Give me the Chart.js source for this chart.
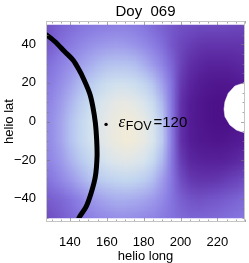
<!DOCTYPE html>
<html><head><meta charset="utf-8">
<script src="https://cdn.jsdelivr.net/npm/chart.js@4.4.1/dist/chart.umd.min.js"></script>
<style>html,body{margin:0;padding:0;background:#fff;}</style>
</head><body>
<canvas id="c" width="249" height="263"></canvas>
<script>
// ---- data ----
const titleText = "Doy  069";
const xTitle = "helio long";
const yTitle = "helio lat";
const xTickValues = [140, 160, 180, 200, 220];
const yTickValues = [-40, -20, 0, 20, 40];
const xRange = [127, 235];
const yRange = [-52, 52];
const mapLatRange = [-50, 50];

// intensity map (0 = darkest purple, 1 = cream), columns = gridLong, rows = gridLat
const gridLong = [125,130,135,140,145,150,155,160,165,170,175,180,185,190,195,200,205,210,215,220,225,230,235];
const gridLat = [50,40,30,20,10,0,-10,-20,-30,-40,-50];
const row50  = [.27,.30,.34,.37,.40,.42,.44,.45,.46,.46,.44,.41,.37,.33,.30,.28,.27,.26,.26,.26,.26,.25,.25];
const row40  = [.30,.33,.39,.44,.49,.53,.56,.58,.59,.58,.55,.51,.45,.38,.30,.25,.22,.20,.19,.19,.19,.19,.20];
const row30  = [.36,.41,.47,.53,.59,.64,.68,.71,.72,.72,.70,.65,.58,.48,.35,.24,.17,.14,.12,.12,.12,.13,.15];
const row20  = [.42,.46,.53,.61,.68,.74,.79,.83,.85,.85,.83,.79,.72,.60,.40,.21,.13,.09,.07,.06,.06,.08,.10];
const row10  = [.46,.51,.59,.67,.75,.81,.87,.91,.94,.95,.93,.89,.82,.68,.42,.18,.10,.06,.04,.03,.03,.05,.07];
const row0   = [.48,.54,.62,.71,.79,.85,.90,.94,.97,.99,.98,.95,.88,.74,.44,.18,.09,.06,.04,.03,.03,.05,.07];
const rowM10 = [.48,.54,.62,.71,.79,.85,.90,.94,.97,.99,.98,.95,.89,.75,.45,.18,.10,.07,.06,.05,.06,.08,.10];
const rowM20 = [.45,.51,.58,.66,.73,.79,.84,.88,.91,.92,.91,.88,.81,.68,.43,.22,.14,.12,.11,.11,.12,.14,.17];
const rowM30 = [.38,.43,.50,.57,.64,.70,.74,.77,.79,.80,.79,.76,.70,.59,.42,.27,.21,.19,.19,.20,.22,.24,.27];
const rowM40 = [.30,.33,.36,.40,.47,.55,.60,.63,.65,.65,.64,.62,.58,.51,.41,.33,.29,.28,.29,.30,.32,.34,.37];
const rowM50 = [.25,.28,.31,.35,.40,.45,.49,.51,.53,.53,.52,.50,.48,.44,.40,.37,.35,.35,.36,.37,.39,.41,.43];
const intensityRows = [row50,row40,row30,row20,row10,row0,rowM10,rowM20,rowM30,rowM40,rowM50];

// black boundary curve
const boundaryLong = [125.5,127.3,131.8,137.1,141.6,143.4,146.1,150.6,152.4,153.8,154.5,154.7,153.8,151.5,148.8,145.2,144.4];
const boundaryLat  = [45.8, 44.8, 41.4, 36.2, 31.9, 29.3, 24.7, 14.8, 7.8, -0.8, -9.5, -18.1,-28.4,-37.0,-44.0,-49.3,-51.0];

// white (no data) region at right edge
const holeLong = [240, 234.8, 233.9, 229.5, 225.9, 224.1, 223.6, 224.1, 226.8, 230.3, 233.0, 235.0, 240];
const holeLat  = [21,  20.4, 19.8, 18.4, 14.6, 10.2, 6.3, 2.5, -1.8, -4.4, -5.3, -5.8, -6];

// field of view point
const fovLong = [159.6];
const fovLat = [-1.5];
const fovValue = "120";

// ---- styling helpers ----
const cmapStops = [
  [0.00, [72, 12, 130]], [0.10, [85, 30, 152]], [0.20, [100, 55, 175]],
  [0.30, [117, 88, 203]], [0.40, [132, 115, 222]], [0.50, [145, 135, 230]],
  [0.60, [160, 158, 236]], [0.70, [178, 190, 240]], [0.80, [196, 216, 240]],
  [0.88, [215, 228, 238]], [0.95, [232, 233, 228]], [1.00, [243, 236, 214]]
];
function cmap(v) {
  v = Math.max(0, Math.min(1, v));
  for (let i = 1; i < cmapStops.length; i++) {
    if (v <= cmapStops[i][0]) {
      const [a, ca] = cmapStops[i - 1], [b, cb] = cmapStops[i];
      const t = (v - a) / (b - a);
      return ca.map((c, k) => Math.round(c + (cb[k] - c) * t));
    }
  }
  return cmapStops[cmapStops.length - 1][1];
}

const FONT = "'Liberation Sans', Arial, Helvetica, sans-serif";

const off = document.createElement('canvas');
off.width = gridLong.length; off.height = gridLat.length;
(function () {
  const octx = off.getContext('2d');
  const img = octx.createImageData(off.width, off.height);
  intensityRows.forEach((row, j) => row.forEach((v, i) => {
    const c = cmap(v), p = (j * off.width + i) * 4;
    img.data[p] = c[0]; img.data[p + 1] = c[1]; img.data[p + 2] = c[2]; img.data[p + 3] = 255;
  }));
  octx.putImageData(img, 0, 0);
})();

const heatmapPlugin = {
  id: 'heatmap',
  beforeDatasetsDraw(chart) {
    const {ctx, chartArea: a, scales: {x, y}} = chart;
    const dL = gridLong[1] - gridLong[0], dB = gridLat[0] - gridLat[1];
    const x0 = x.getPixelForValue(gridLong[0] - dL / 2);
    const x1 = x.getPixelForValue(gridLong[gridLong.length - 1] + dL / 2);
    const y0 = y.getPixelForValue(gridLat[0] + dB / 2);
    const y1 = y.getPixelForValue(gridLat[gridLat.length - 1] - dB / 2);
    const yt = y.getPixelForValue(mapLatRange[1]), yb = y.getPixelForValue(mapLatRange[0]);
    ctx.save();
    ctx.beginPath();
    ctx.rect(a.left, yt, a.right - a.left, yb - yt);
    ctx.clip();
    ctx.imageSmoothingEnabled = true;
    ctx.drawImage(off, x0, y0, x1 - x0, y1 - y0);
    ctx.restore();
  }
};

const framePlugin = {
  id: 'frame',
  afterDatasetsDraw(chart) {
    const {ctx, chartArea: a, scales: {x, y}} = chart;
    ctx.save();
    ctx.strokeStyle = 'rgba(120,120,120,0.8)';
    ctx.lineWidth = 0.8;
    for (let v = 130; v <= xRange[1]; v += 5) {
      const px = Math.round(x.getPixelForValue(v)) + 0.5;
      const len = xTickValues.includes(v) ? 4 : 2.5;
      ctx.beginPath();
      ctx.moveTo(px, a.bottom); ctx.lineTo(px, a.bottom - len);
      ctx.moveTo(px, a.top); ctx.lineTo(px, a.top + len);
      ctx.stroke();
    }
    for (let v = -50; v <= 50; v += 5) {
      const py = Math.round(y.getPixelForValue(v)) + 0.5;
      const len = yTickValues.includes(v) ? 4 : 2.5;
      ctx.beginPath();
      ctx.moveTo(a.left, py); ctx.lineTo(a.left + len, py);
      ctx.moveTo(a.right, py); ctx.lineTo(a.right - len, py);
      ctx.stroke();
    }
    ctx.strokeStyle = '#c4c4c4';
    ctx.lineWidth = 1;
    ctx.strokeRect(Math.round(a.left) + 0.5, Math.round(a.top) + 0.5,
                   Math.round(a.right - a.left) - 1, Math.round(a.bottom - a.top) - 1);
    ctx.restore();
  },
  afterDraw(chart) {
    const {ctx, chartArea: a, scales: {x, y}} = chart;
    ctx.save();
    ctx.fillStyle = '#000';
    ctx.textBaseline = 'alphabetic';
    ctx.font = '15px ' + FONT;
    ctx.textAlign = 'center';
    ctx.fillText(titleText, (a.left + a.right) / 2, 16);
    ctx.font = '13px ' + FONT;
    ctx.fillText(xTitle, (a.left + a.right) / 2, 259.5);
    ctx.save();
    ctx.translate(13, (a.top + a.bottom) / 2);
    ctx.rotate(-Math.PI / 2);
    ctx.fillText(yTitle, 0, 0);
    ctx.restore();
    const px = x.getPixelForValue(fovLong[0]);
    const py = y.getPixelForValue(fovLat[0]);
    const base = py + 2.5;
    ctx.textAlign = 'left';
    let cx = px + 12.5;
    ctx.font = 'italic 17px "Liberation Serif", "Times New Roman", serif';
    ctx.fillText('\u03B5', cx, base);
    cx += ctx.measureText('\u03B5').width + 0.5;
    ctx.font = '12.5px ' + FONT;
    ctx.fillText('FOV', cx, base + 3.5);
    cx += ctx.measureText('FOV').width + 2;
    ctx.font = '15px ' + FONT;
    ctx.fillText('=' + fovValue, cx, base);
    ctx.restore();
  }
};

const tickFont = {family: FONT, size: 13};
new Chart(document.getElementById('c'), {
  type: 'scatter',
  data: {
    datasets: [
      {
        label: 'no data',
        data: holeLong.map((v, i) => ({x: v, y: holeLat[i]})),
        showLine: true, fill: 'shape',
        backgroundColor: '#ffffff', borderColor: '#ffffff', borderWidth: 0.5,
        pointRadius: 0
      },
      {
        label: 'boundary',
        data: boundaryLong.map((v, i) => ({x: v, y: boundaryLat[i]})),
        showLine: true, fill: false,
        borderColor: '#000', borderWidth: 5, tension: 0.3,
        pointRadius: 0, clip: {left: 0, right: 0, top: -4, bottom: -4}
      },
      {
        label: 'FOV point',
        data: fovLong.map((v, i) => ({x: v, y: fovLat[i]})),
        pointRadius: 1.7, backgroundColor: '#000', borderWidth: 0
      }
    ]
  },
  options: {
    responsive: false, animation: false, events: [],
    layout: {padding: {top: 21, right: 2, left: 0, bottom: 0}},
    plugins: {legend: {display: false}, title: {display: false}, tooltip: {enabled: false}},
    scales: {
      x: {
        type: 'linear', min: xRange[0], max: xRange[1],
        afterFit(s) { s.height = 41; },
        afterBuildTicks(s) { s.ticks = xTickValues.map(v => ({value: v})); },
        grid: {display: false}, border: {display: false},
        ticks: {padding: 5, color: '#000', font: tickFont, maxRotation: 0},
        title: {display: false}
      },
      y: {
        type: 'linear', min: yRange[0], max: yRange[1],
        afterFit(s) { s.width = 46; },
        afterBuildTicks(s) { s.ticks = yTickValues.map(v => ({value: v})); },
        grid: {display: false}, border: {display: false},
        ticks: {padding: 2, color: '#000', font: tickFont,
                callback: v => String(v).replace('-', '\u2212')},
        title: {display: false}
      }
    }
  },
  plugins: [heatmapPlugin, framePlugin]
});
</script>
</body></html>
